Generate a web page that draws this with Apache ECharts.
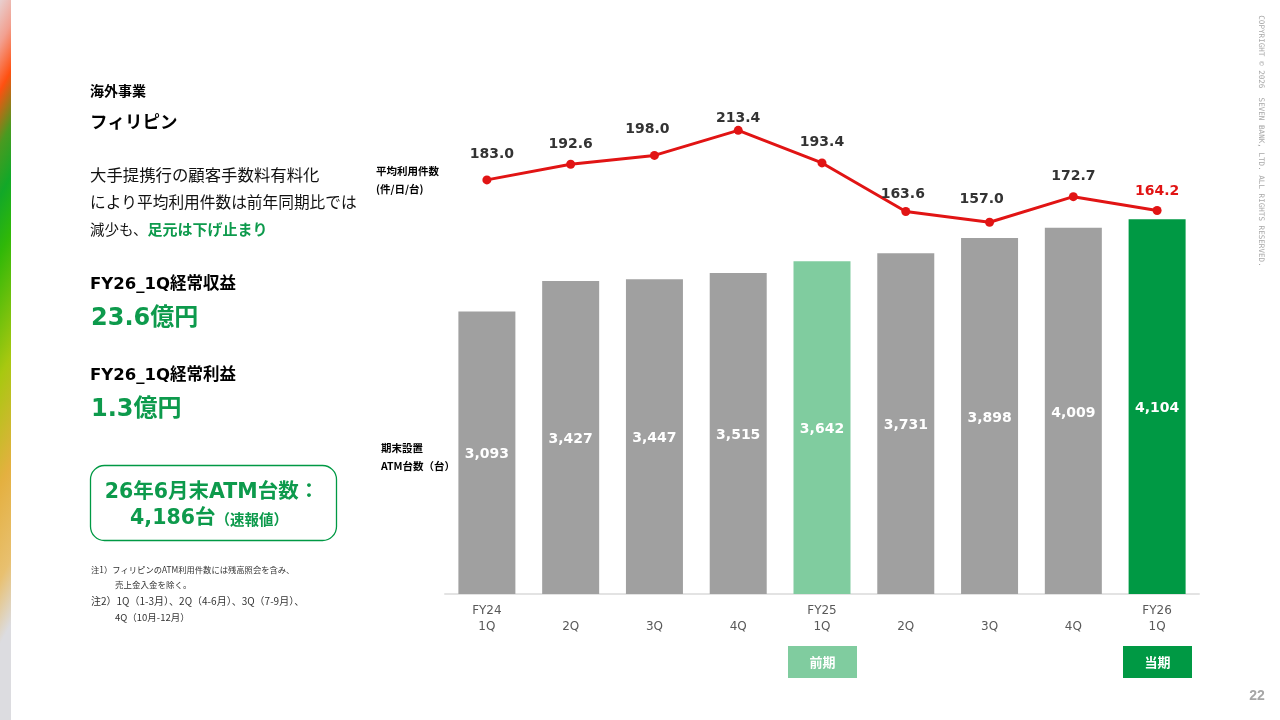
<!DOCTYPE html>
<html lang="ja">
<head>
<meta charset="utf-8">
<style>html,body{margin:0;padding:0;background:#fff}#c{width:1280px;height:720px}</style>
<script src="https://cdn.jsdelivr.net/npm/echarts@6/dist/echarts.min.js"></script>
</head>
<body>
<div id="c"></div>
<script>
const categories = ['FY24\n1Q','\n2Q','\n3Q','\n4Q','FY25\n1Q','\n2Q','\n3Q','\n4Q','FY26\n1Q'];
const atmCounts = [3093,3427,3447,3515,3642,3731,3898,4009,4104];
const avgUsage = [183.0,192.6,198.0,213.4,193.4,163.6,157.0,172.7,164.2];
const labelGaps = [14,8,15,0,9,6,11,9,8];
const labelShifts = [5,0,-7,0,0,-3,-8,0,0];

const FONT = '"DejaVu Sans","Noto Sans CJK JP",sans-serif';
const JP = '"Noto Sans CJK JP","DejaVu Sans",sans-serif';
const GREEN = '#009944', LIGHT = '#80cc9f', GRAY = '#a0a0a0', RED = '#e11414', TXTG = '#0d9a4c';

function txt(x, y, text, size, weight, fill, extra) {
  return {
    type: 'text', x, y,
    style: Object.assign({ text, fontSize: size, fontWeight: weight, fill, fontFamily: FONT,
      textAlign: 'left', textVerticalAlign: 'middle' }, extra || {})
  };
}
const centered = { textAlign: 'center' };

const chart = echarts.init(document.getElementById('c'), null, { renderer: 'canvas' });
chart.setOption({
  animation: false,
  backgroundColor: '#fff',
  grid: [
    { left: 445, width: 754, top: 183, height: 411 },
    { left: 445, width: 754, top: 100, height: 150 }
  ],
  xAxis: [
    { type: 'category', gridIndex: 0, data: categories,
      axisLine: { lineStyle: { color: '#e3e3e3', width: 2 } }, axisTick: { show: false },
      axisLabel: { color: '#595959', fontSize: 12, lineHeight: 16, fontFamily: FONT, margin: 9, interval: 0 } },
    { type: 'category', gridIndex: 1, data: categories, show: false }
  ],
  yAxis: [
    { type: 'value', gridIndex: 0, min: 0, max: 4500, show: false },
    { type: 'value', gridIndex: 1, min: 140, max: 232, show: false }
  ],
  series: [
    { type: 'bar', name: '期末設置ATM台数', xAxisIndex: 0, yAxisIndex: 0, barWidth: 57,
      data: atmCounts.map((v, i) => ({ value: v, itemStyle: { color: i === 4 ? LIGHT : i === 8 ? GREEN : GRAY } })),
      label: { show: true, position: 'inside', offset: [0, 2], color: '#fff', fontSize: 14, fontWeight: 'bold', fontFamily: FONT,
        formatter: p => p.value.toLocaleString('en-US') } },
    { type: 'line', name: '平均利用件数', xAxisIndex: 1, yAxisIndex: 1, symbol: 'circle', symbolSize: 9,
      lineStyle: { color: RED, width: 3 }, itemStyle: { color: RED },
      data: avgUsage.map((v, i) => ({ value: v,
        label: { show: true, position: 'top', distance: labelGaps[i], offset: [labelShifts[i], 0], fontSize: 14, fontWeight: 'bold', fontFamily: FONT,
          color: i === 8 ? RED : '#333', formatter: p => p.value.toFixed(1) } })) }
  ],
  graphic: [
    { type: 'rect', shape: { x: 0, y: 0, width: 11, height: 720 },
      style: { fill: new echarts.graphic.LinearGradient(0, 0, 305, 167, [
        { offset: 0, color: '#e8d0d0' }, { offset: 0.06, color: '#f2a090' }, { offset: 0.125, color: '#ff5010' },
        { offset: 0.2, color: '#4a9a20' }, { offset: 0.27, color: '#12a828' }, { offset: 0.35, color: '#30b808' },
        { offset: 0.52, color: '#a8c810' }, { offset: 0.67, color: '#e4b040' }, { offset: 0.8, color: '#e8c070' },
        { offset: 0.89, color: '#dcdce0' }, { offset: 1, color: '#dcdce0' }
      ], true) } },
    txt(90, 91, '海外事業', 14, 'bold', '#000', { fontFamily: JP }),
    txt(90, 121, 'フィリピン', 17.5, 'bold', '#000', { fontFamily: JP }),
    txt(90, 175, '大手提携行の顧客手数料有料化', 16.4, 'normal', '#111', { fontFamily: JP }),
    txt(90, 202, 'により平均利用件数は前年同期比では', 15.7, 'normal', '#111', { fontFamily: JP }),
    { type: 'text', x: 90, y: 229, style: { text: '{a|減少も、}{b|足元は下げ止まり}', textAlign: 'left', textVerticalAlign: 'middle',
        rich: { a: { fontSize: 14.5, fill: '#111', fontFamily: JP }, b: { fontSize: 15, fontWeight: 'bold', fill: TXTG, fontFamily: JP } } } },
    txt(90, 285, 'FY26_1Q経常収益', 16.5, 'bold', '#000'),
    txt(91, 319, '23.6億円', 24, 'bold', TXTG),
    txt(90, 376, 'FY26_1Q経常利益', 16.5, 'bold', '#000'),
    txt(91, 410, '1.3億円', 24, 'bold', TXTG),
    { type: 'rect', shape: { x: 90.5, y: 465.5, width: 246, height: 75, r: 14 },
      style: { fill: '#fff', stroke: GREEN, lineWidth: 1.3 } },
    txt(212, 493, '26年6月末ATM台数：', 20.5, 'bold', TXTG, centered),
    { type: 'text', x: 209, y: 519, style: { text: '{a|4,186台}{b|（速報値）}', textAlign: 'center', textVerticalAlign: 'middle',
        rich: { a: { fontSize: 20.5, fontWeight: 'bold', fill: TXTG, fontFamily: FONT },
                b: { fontSize: 14.5, fontWeight: 'bold', fill: TXTG, fontFamily: JP } } } },
    txt(91, 570, '注1）フィリピンのATM利用件数には残高照会を含み、', 8.3, 'normal', '#333', { fontFamily: JP }),
    txt(115, 585, '売上金入金を除く。', 8.5, 'normal', '#333', { fontFamily: JP }),
    txt(91, 601, '注2）1Q（1-3月）、2Q（4-6月）、3Q（7-9月）、', 10, 'normal', '#333', { fontFamily: JP }),
    txt(115, 617, '4Q（10月-12月）', 9.5, 'normal', '#333', { fontFamily: JP }),
    txt(376, 171, '平均利用件数', 10.5, 'bold', '#000', { fontFamily: JP }),
    txt(376, 189, '(件/日/台)', 10.5, 'bold', '#000', { fontFamily: JP }),
    txt(381, 448, '期末設置', 10.5, 'bold', '#000', { fontFamily: JP }),
    txt(381, 466, 'ATM台数（台）', 10.5, 'bold', '#000', { fontFamily: JP }),
    { type: 'rect', shape: { x: 788, y: 646, width: 69, height: 32 }, style: { fill: LIGHT } },
    txt(822.5, 662, '前期', 13, 'bold', '#fff', { textAlign: 'center', fontFamily: JP }),
    { type: 'rect', shape: { x: 1123, y: 646, width: 69, height: 32 }, style: { fill: GREEN } },
    txt(1157.5, 662, '当期', 13, 'bold', '#fff', { textAlign: 'center', fontFamily: JP }),
    txt(1257, 696, '22', 14, 'bold', '#a6a6a6', { textAlign: 'center', fontFamily: '"Liberation Sans",sans-serif' }),
    { type: 'text', x: 1261, y: 141, rotation: -Math.PI / 2,
      style: { text: 'COPYRIGHT © 2026  SEVEN BANK, LTD. ALL RIGHTS RESERVED.', fontSize: 7.6, fill: '#a8a8a8',
        fontFamily: '"DejaVu Sans Mono",monospace', textAlign: 'center', textVerticalAlign: 'middle' } }
  ]
});
</script>
</body>
</html>
